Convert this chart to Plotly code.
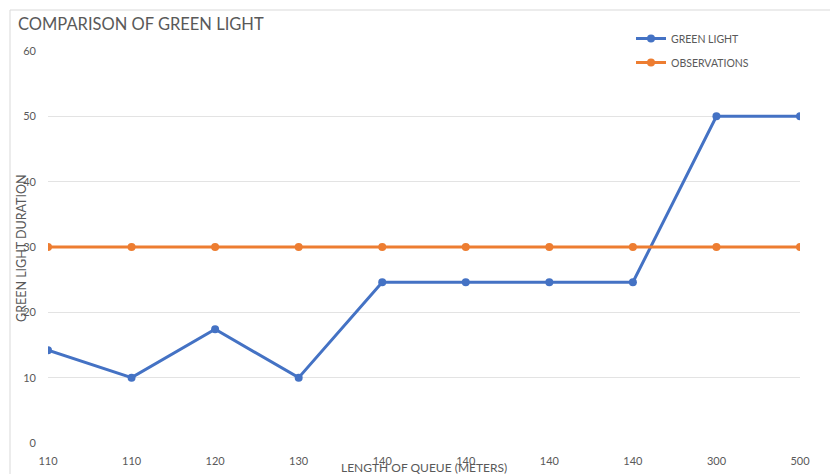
import plotly.graph_objects as go

categories = ["110", "110", "120", "130", "140", "140", "140", "140", "300", "500"]
green_light = [14.2, 10, 17.4, 10, 24.6, 24.6, 24.6, 24.6, 50, 50]
observations = [30, 30, 30, 30, 30, 30, 30, 30, 30, 30]
y_ticks = [0, 10, 20, 30, 40, 50, 60]

# page has an 8px body margin; work in page pixels, convert to figure pixels
OFF = 8
W, H = 838 - OFF, 474 - OFF
PL, PR, PT, PB = 48, 800, 51, 443  # plot area in page pixels
L, T = PL - OFF, PT - OFF
R = W - (PR - OFF)
B = H - (PB - OFF)
pw, ph = PR - PL, PB - PT

def px(x):
    return (x - PL) / pw

def py(y):
    return (PB - y) / ph

FONT = "Lato"
GREY = "#595959"
idx = list(range(len(categories)))

fig = go.Figure()
fig.add_trace(go.Scatter(x=idx, y=green_light, name="GREEN LIGHT", mode="lines+markers", legendgroup="g",
                         line=dict(color="#4472C4", width=3), marker=dict(size=8, color="#4472C4")))
fig.add_trace(go.Scatter(x=idx, y=observations, name="OBSERVATIONS", mode="lines+markers", legendgroup="o",
                         line=dict(color="#ED7D31", width=3), marker=dict(size=8, color="#ED7D31")))

fig.update_layout(
    width=W, height=H,
    margin=dict(l=L, r=R, t=T, b=B, autoexpand=False),
    paper_bgcolor="white", plot_bgcolor="white",
    font=dict(family=FONT, color=GREY),
    showlegend=True,
    hovermode=False,
    legend=dict(x=px(631), y=py(24), xanchor="left", yanchor="top",
                font=dict(size=10.5, color=GREY, family=FONT),
                bgcolor="rgba(0,0,0,0)", itemwidth=30, tracegroupgap=5),
    xaxis=dict(tickmode="array", tickvals=idx, ticktext=categories, range=[0, len(categories) - 1],
               showgrid=False, zeroline=False, showline=False, ticks="",
               tickfont=dict(size=11, color=GREY, family=FONT), ticklabelstandoff=10),
    yaxis=dict(range=[0, 60], tickvals=y_ticks, showgrid=True, gridcolor="#E3E3E3", gridwidth=1,
               zeroline=False, showline=False, ticks="",
               tickfont=dict(size=11, color=GREY, family=FONT), ticklabelstandoff=11),
    annotations=[
        dict(text="COMPARISON OF GREEN LIGHT", x=px(16), y=py(24), xref="paper", yref="paper",
             xanchor="left", yanchor="middle", showarrow=False,
             font=dict(size=16.5, color=GREY, family=FONT)),
        dict(text="GREEN LIGHT DURATION", x=px(21), y=py(248), xref="paper", yref="paper",
             xanchor="center", yanchor="middle", showarrow=False, textangle=-90,
             font=dict(size=12.5, color=GREY, family=FONT)),
        dict(text="LENGTH OF QUEUE (METERS)", x=px(424), y=py(467), xref="paper", yref="paper",
             xanchor="center", yanchor="middle", showarrow=False,
             font=dict(size=12, color=GREY, family=FONT)),
    ],
    shapes=[
        dict(type="line", xref="paper", yref="paper", x0=px(10), x1=px(10), y0=py(10), y1=py(480),
             line=dict(color="#D9D9D9", width=1)),
        dict(type="line", xref="paper", yref="paper", x0=px(10), x1=px(845), y0=py(10), y1=py(10),
             line=dict(color="#D9D9D9", width=1)),
    ],
)

fig.write_html("out.html")
